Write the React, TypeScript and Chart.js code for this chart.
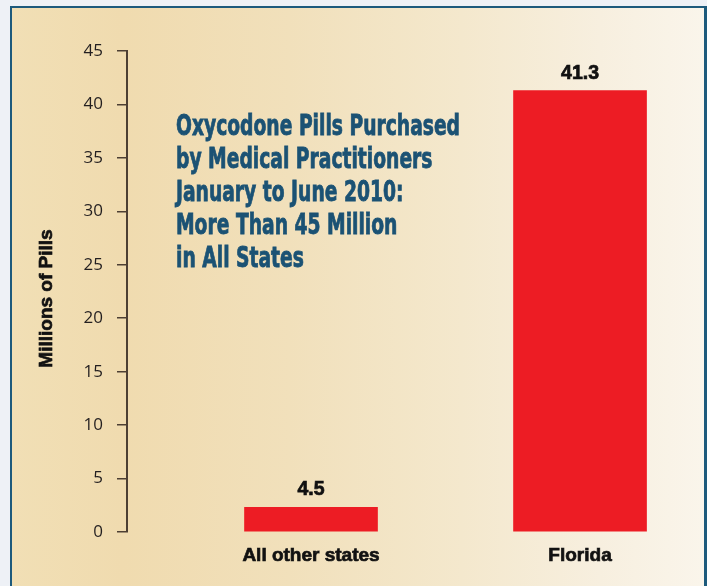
import React, { useEffect, useRef } from "react";
import { Chart, registerables } from "chart.js";

Chart.register(...registerables);

// ---- data ----
const categories = ["All other states", "Florida"];
// bar heights as drawn in the reference (millions of pills)
const barHeights = [2.3, 41.3];
// value labels printed above the bars
const valueLabels = ["4.5", "41.3"];
const yMin = 0;
const yMax = 45;
const yStep = 5;
const yAxisTitle = "Millions of Pills";
const titleLines = [
  "Oxycodone Pills Purchased",
  "by Medical Practitioners",
  "January to June 2010:",
  "More Than 45 Million",
  "in All States",
];

const BOLD_FONT = "'Liberation Sans', Arial, sans-serif";
const TITLE_FONT = "'Liberation Sans Narrow', 'DejaVu Sans Condensed', 'Liberation Sans', sans-serif";
const LABEL_COLOR = "#111111";

const valueLabelPlugin = {
  id: "valueLabels",
  afterDatasetsDraw(chart: any) {
    const ctx = chart.ctx;
    const meta = chart.getDatasetMeta(0);
    ctx.save();
    ctx.font = `bold 19.5px ${BOLD_FONT}`;
    ctx.fillStyle = LABEL_COLOR;
    ctx.strokeStyle = LABEL_COLOR;
    ctx.lineWidth = 0.7;
    ctx.textAlign = "center";
    ctx.textBaseline = "alphabetic";
    meta.data.forEach((bar: any, i: number) => {
      ctx.fillText(valueLabels[i], bar.x, bar.y - 12);
      ctx.strokeText(valueLabels[i], bar.x, bar.y - 12);
    });
    ctx.restore();
  },
};

const yTitlePlugin = {
  id: "yTitle",
  afterDraw(chart: any) {
    const ctx = chart.ctx;
    const area = chart.chartArea;
    ctx.save();
    ctx.font = `bold 19px ${BOLD_FONT}`;
    ctx.fillStyle = LABEL_COLOR;
    ctx.strokeStyle = LABEL_COLOR;
    ctx.lineWidth = 0.7;
    ctx.textAlign = "center";
    ctx.textBaseline = "middle";
    ctx.translate(47, (area.top + area.bottom) / 2 + 7);
    ctx.rotate(-Math.PI / 2);
    ctx.fillText(yAxisTitle, 0, 0);
    ctx.strokeText(yAxisTitle, 0, 0);
    ctx.restore();
  },
};

const titlePlugin = {
  id: "innerTitle",
  afterDraw(chart: any) {
    const ctx = chart.ctx;
    const area = chart.chartArea;
    ctx.save();
    ctx.font = `bold 28px ${TITLE_FONT}`;
    ctx.fillStyle = "#1b5274";
    ctx.strokeStyle = "#1b5274";
    ctx.lineWidth = 0.8;
    ctx.textAlign = "left";
    ctx.textBaseline = "alphabetic";
    const w = ctx.measureText(titleLines[0]).width;
    const sx = 284 / w;
    const x0 = area.left + 49;
    const y0 = area.top + 84;
    titleLines.forEach((line, i) => {
      ctx.save();
      ctx.translate(x0, y0 + i * 33);
      ctx.scale(sx, 1);
      ctx.fillText(line, 0, 0);
      ctx.strokeText(line, 0, 0);
      ctx.restore();
    });
    ctx.restore();
  },
};

export default function App() {
  const canvasRef = useRef<HTMLCanvasElement | null>(null);

  useEffect(() => {
    if (!canvasRef.current) return;
    const axisColor = "#4d3f33";
    const chart = new Chart(canvasRef.current, {
      type: "bar",
      data: {
        datasets: [
          {
            data: categories.map((_, i) => ({ x: i, y: barHeights[i] })),
            backgroundColor: "#ed1c24",
            borderWidth: 0,
            barThickness: 133,
          },
        ],
      },
      options: {
        responsive: false,
        animation: false,
        layout: { padding: { top: 51, left: 0, right: 0, bottom: 0 } },
        plugins: {
          legend: { display: false },
          tooltip: { enabled: false },
        },
        scales: {
          x: {
            type: "linear",
            offset: false,
            min: -0.684,
            max: 1.472,
            grid: { display: false, drawTicks: false },
            border: { display: false },
            afterBuildTicks: (scale: any) => {
              scale.ticks = categories.map((_, i) => ({ value: i }));
            },
            afterFit: (scale: any) => {
              scale.height = 54;
            },
            ticks: {
              autoSkip: false,
              maxRotation: 0,
              padding: 12,
              color: LABEL_COLOR,
              textStrokeColor: LABEL_COLOR,
              textStrokeWidth: 0.7,
              font: { family: BOLD_FONT, size: 19, weight: "bold" },
              callback: (v: any) => categories[Number(v)] ?? "",
            },
          },
          y: {
            type: "linear",
            min: yMin,
            max: yMax,
            ticks: {
              stepSize: yStep,
              padding: 14,
              color: "#231f20",
              font: { family: "'Open Sans', sans-serif", size: 17 },
            },
            grid: {
              display: true,
              drawOnChartArea: false,
              drawTicks: true,
              tickLength: 10,
              color: axisColor,
              lineWidth: 1.5,
            },
            border: { display: true, color: axisColor, width: 2 },
            title: { display: false },
            afterFit: (scale: any) => {
              scale.width = 127;
            },
          },
        },
      } as any,
      plugins: [valueLabelPlugin, titlePlugin, yTitlePlugin],
    });
    return () => chart.destroy();
  }, []);

  return (
    <div
      style={{
        position: "fixed",
        left: 0,
        top: 0,
        width: 707,
        height: 586,
        background: "#eef1f6",
        overflow: "hidden",
      }}
    >
      <div
        style={{
          position: "absolute",
          left: 10,
          top: 6,
          width: 697,
          height: 620,
          boxSizing: "border-box",
          borderLeft: "2px solid #1d5a7c",
          borderTop: "2px solid #1d5a7c",
          borderRight: "3px solid #1d5a7c",
          background:
            "linear-gradient(to right, #f1dfb5 0%, #f0dbaf 16%, #f1e0bb 40%, #f4e8cd 65%, #f7efdf 85%, #faf5eb 100%)",
        }}
      />
      <canvas
        ref={canvasRef}
        width={707}
        height={586}
        style={{ position: "absolute", left: 0, top: 0 }}
      />
    </div>
  );
}
